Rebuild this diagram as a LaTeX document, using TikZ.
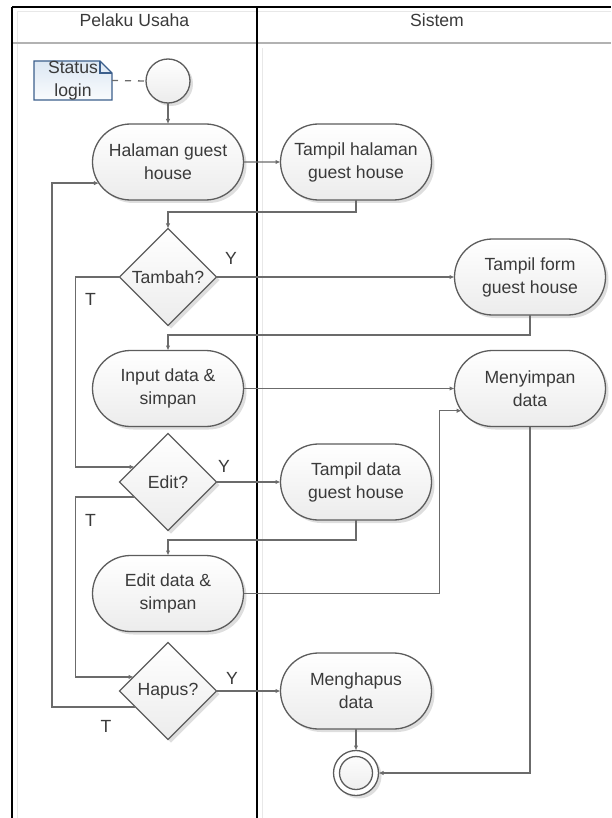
\documentclass[tikz,border=0pt]{standalone}
\usepackage{fontspec}
\setmainfont{Liberation Sans}
\usetikzlibrary{shapes.geometric,shapes.misc,arrows.meta,calc,shadows,backgrounds}
\definecolor{lineC}{HTML}{6B6B6B}
\definecolor{borderC}{HTML}{5C5C5C}
\definecolor{textC}{HTML}{3A3A3A}
\definecolor{noteB}{HTML}{3C5F8C}
\definecolor{noteF}{HTML}{DCE7F3}
\begin{document}
\begin{tikzpicture}[x=1pt,y=-1pt,
  every node/.style={font=\fontsize{17.6}{23}\selectfont, text=textC},
  softfill/.style={top color=white, bottom color=gray!15},
  shad/.style={drop shadow={shadow xshift=3pt,shadow yshift=-3pt,fill=black,opacity=0.13}},
  act/.style={rounded rectangle, draw=borderC, line width=1.3pt,
    minimum width=151pt, minimum height=76pt, inner sep=0pt, outer sep=0pt,
    align=center, softfill, shad},
  dec/.style={diamond, aspect=1, draw=borderC, line width=1.3pt,
    minimum width=97pt, minimum height=97pt, inner sep=0pt, outer sep=0pt,
    softfill, shad},
  startnode/.style={circle, draw=borderC, line width=1.3pt, minimum size=44pt,
    inner sep=0pt, outer sep=0pt, softfill, shad},
  endnode/.style={circle, draw=borderC, line width=1.3pt, minimum size=45pt,
    inner sep=0pt, outer sep=0pt, fill=white, shad,
    path picture={\draw[borderC, line width=1.3pt, top color=white, bottom color=gray!15]
      (path picture bounding box.center) circle (16.5pt);}},
  notebox/.style={minimum width=78pt, minimum height=39pt, inner sep=0pt,
    outer sep=0pt, align=center},
  lbl/.style={inner sep=0pt},
  flow/.style={draw=lineC, line width=1.3pt, -{Latex[length=5pt,width=4.5pt]}},
  lane/.style={draw=black, line width=2.2pt},
  laneshade/.style={draw=gray!18, line width=1pt}
]
\useasboundingbox (0,0) rectangle (611,818);

% swimlane frame
\draw[laneshade] (17,12) -- (611,12);
\draw[laneshade] (17,12) -- (17,818);
\draw[laneshade] (262,48) -- (262,818);
\draw[draw=gray!60, line width=2pt] (12,43) -- (611,43);
\draw[lane] (12,7) -- (611,7);
\draw[lane] (12,7) -- (12,818);
\draw[lane] (257,7) -- (257,818);
\node[anchor=base] (h1) at (134.5,27) {Pelaku Usaha};
\node[anchor=base] (h2) at (437,27) {Sistem};

% nodes
\node[notebox] (nt) at (73,80.5) {Status\\login};
\node[startnode] (st) at (168,81) {};
\node[act] (hal) at (168,162) {Halaman guest\\house};
\node[act] (tph) at (356,162) {Tampil halaman\\guest house};
\node[dec] (tam) at (168,277) {Tambah?};
\node[act] (tpf) at (530,277) {Tampil form\\guest house};
\node[act] (inp) at (168,388.5) {Input data \&\\simpan};
\node[act] (men) at (530,388.5) {Menyimpan\\data};
\node[dec] (edt) at (168,482) {Edit?};
\node[act] (tpd) at (356,482) {Tampil data\\guest house};
\node[act] (edd) at (168,593.5) {Edit data \&\\simpan};
\node[dec] (hap) at (168,691) {Hapus?};
\node[act] (mhd) at (356,691) {Menghapus\\data};
\node[endnode] (fin) at (356,773) {};

% note with folded corner
\begin{scope}[on background layer]
  \path[draw=noteB, line width=1.4pt, top color=noteF, bottom color=white!85!noteF]
    (nt.south west) -- (nt.north west) -- ([xshift=-12pt]nt.north east)
    -- ([yshift=-12pt]nt.north east) -- (nt.south east) -- cycle;
  \draw[noteB, line width=1.2pt] ([xshift=-12pt]nt.north east)
    -- ([xshift=-12pt,yshift=-12pt]nt.north east) -- ([yshift=-12pt]nt.north east);
\end{scope}
\draw[lineC, line width=1.3pt, dash pattern=on 6pt off 7pt] (nt.east) -- (st.west);

% control flow
\draw[flow] (st) -- (hal);
\draw[flow] (hal) -- (tph);
\draw[flow] (tph.south) -- ++(0,12) -| (tam.north);
\draw[flow] (tam.east) -- (tpf.west);
\draw[flow] (tpf.south) -- ++(0,20) -| (inp.north);
\draw[flow] (inp.east) -- (men.west);
\draw[flow] (tam.west) -- ++(-44,0) |- ($(edt.west)!0.31!(edt.north)$);
\draw[flow] (edt.east) -- (tpd.west);
\draw[flow] (tpd.south) -- ++(0,20) -| (edd.north);
\draw[flow] (edd.east) -- ++(196,0) |- (men.198);
\draw[flow] ($(edt.west)!0.31!(edt.south)$) -- ++(-59,0) |- ($(hap.west)!0.29!(hap.north)$);
\draw[flow] (hap.east) -- (mhd.west);
\draw[flow] (mhd.south) -- (fin.north);
\draw[flow] (men.south) |- (fin.east);
\draw[flow] ($(hap.west)!0.33!(hap.south)$) -- ++(-83.5,0) |- (hal.197);

% branch labels
\node[lbl] (y1) at (231,258.5) {Y};
\node[lbl] (t1) at (90.5,299) {T};
\node[lbl] (y2) at (224,466) {Y};
\node[lbl] (t2) at (90.5,520) {T};
\node[lbl] (y3) at (232,678.5) {Y};
\node[lbl] (t3) at (106,726.5) {T};
\end{tikzpicture}
\end{document}
